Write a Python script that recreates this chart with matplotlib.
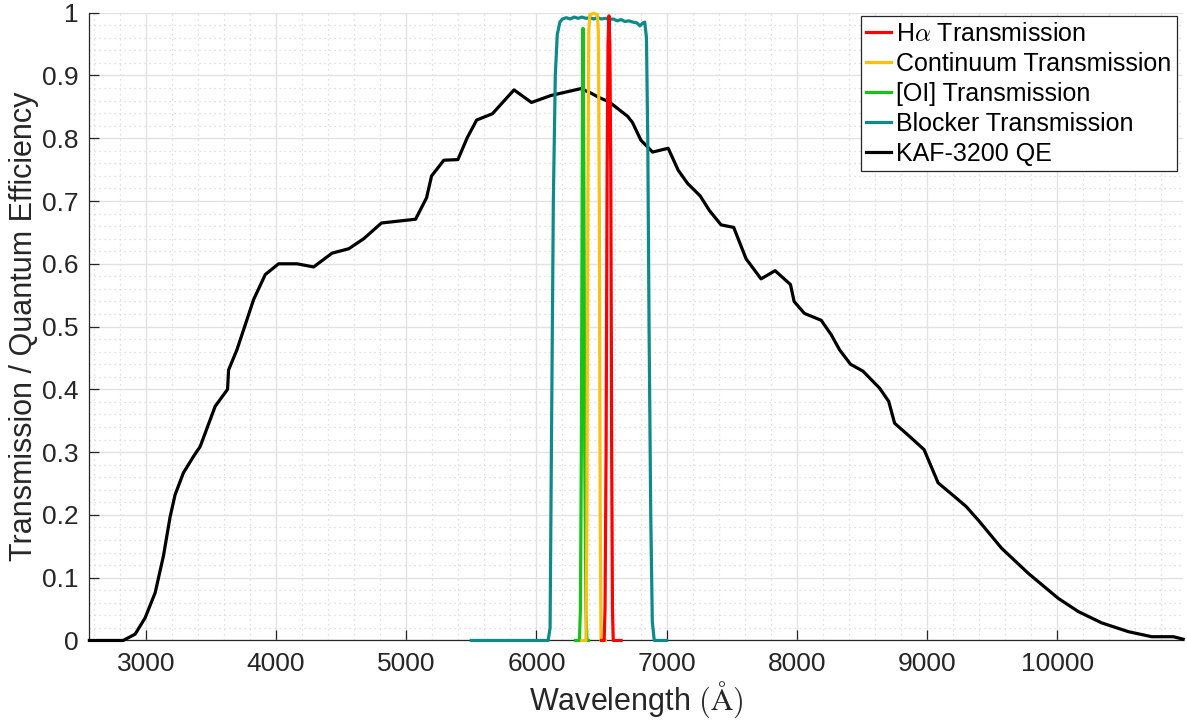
import matplotlib
matplotlib.use("Agg")
import matplotlib.pyplot as plt
from matplotlib.ticker import MultipleLocator, FuncFormatter

plt.rcParams['font.family'] = ['Liberation Sans', 'DejaVu Sans']
plt.rcParams['mathtext.fontset'] = 'cm'

# KAF-3200 quantum efficiency
qe_wl = [2567, 2700, 2826, 2918, 2995, 3072, 3135, 3187, 3225, 3289, 3366, 3418,
         3533, 3628, 3636, 3700, 3777, 3828, 3918, 4020, 4162, 4289, 4431, 4559,
         4674, 4810, 5072, 5156, 5195, 5289, 5397, 5469, 5541, 5662, 5828, 5962,
         6110, 6340, 6418, 6480, 6558, 6700, 6738, 6802, 6892, 7012, 7089, 7161,
         7258, 7328, 7418, 7515, 7610, 7725, 7833, 7951, 7979, 8058, 8187, 8264,
         8328, 8412, 8508, 8635, 8705, 8751, 8866, 8977, 9085, 9212, 9302, 9400,
         9572, 9777, 10008, 10162, 10341, 10546, 10725, 10892, 10967]
qe_val = [0.0, 0.0, 0.0, 0.010, 0.036, 0.076, 0.134, 0.197, 0.232, 0.267, 0.293, 0.309,
          0.373, 0.400, 0.431, 0.463, 0.511, 0.543, 0.583, 0.600, 0.600, 0.595, 0.617, 0.624,
          0.640, 0.665, 0.671, 0.705, 0.740, 0.765, 0.766, 0.801, 0.829, 0.839, 0.877, 0.857,
          0.868, 0.879, 0.872, 0.865, 0.858, 0.835, 0.825, 0.797, 0.778, 0.784, 0.749, 0.728,
          0.708, 0.685, 0.662, 0.658, 0.608, 0.576, 0.589, 0.567, 0.540, 0.521, 0.510, 0.487,
          0.463, 0.440, 0.429, 0.402, 0.381, 0.346, 0.325, 0.304, 0.251, 0.229, 0.213, 0.190,
          0.147, 0.107, 0.067, 0.046, 0.028, 0.014, 0.006, 0.006, 0.002]

# Blocker filter
blk_wl = [5500, 6090, 6105, 6115, 6130, 6145, 6160, 6180, 6200, 6230, 6260, 6290, 6320,
          6350, 6380, 6410, 6440, 6470, 6500, 6530, 6560, 6590, 6620, 6650, 6680, 6710,
          6740, 6770, 6795, 6815, 6832, 6845, 6855, 6865, 6878, 6890, 6905, 7000]
blk_val = [0.0, 0.0, 0.02, 0.3, 0.7, 0.9, 0.965, 0.985, 0.990, 0.992, 0.990, 0.993, 0.991,
           0.993, 0.991, 0.992, 0.990, 0.992, 0.990, 0.991, 0.989, 0.990, 0.987, 0.989, 0.986,
           0.987, 0.985, 0.984, 0.979, 0.983, 0.985, 0.96, 0.8, 0.5, 0.2, 0.03, 0.0, 0.0]

# [OI] filter
oi_wl = [6300, 6330, 6338, 6345, 6352, 6358, 6364, 6371, 6380, 6388, 6400]
oi_val = [0.0, 0.0, 0.05, 0.3, 0.75, 0.975, 0.75, 0.3, 0.05, 0.0, 0.0]

# Continuum filter
cont_wl = [6350, 6380, 6388, 6395, 6402, 6410, 6440, 6468, 6476, 6483, 6490, 6496, 6530]
cont_val = [0.0, 0.0, 0.2, 0.7, 0.97, 0.997, 0.999, 0.997, 0.97, 0.7, 0.2, 0.0, 0.0]

# H-alpha filter
ha_wl = [6500, 6520, 6527, 6535, 6543, 6550, 6557, 6564, 6571, 6578, 6584, 6590, 6650]
ha_val = [0.0, 0.0, 0.05, 0.3, 0.75, 0.95, 0.995, 0.95, 0.75, 0.3, 0.05, 0.0, 0.0]

fig = plt.figure(figsize=(11.87, 7.25), dpi=100)
ax = fig.add_axes([0.0752, 0.1166, 0.9217, 0.8659])

lw = 2.3
h_qe, = ax.plot(qe_wl, qe_val, color='black', lw=lw, zorder=3, label='KAF-3200 QE', clip_on=False)
h_blk, = ax.plot(blk_wl, blk_val, color='#0E8A8A', lw=lw, zorder=4, label='Blocker Transmission', clip_on=False)
h_oi, = ax.plot(oi_wl, oi_val, color='#16C316', lw=lw, zorder=5, label='[OI] Transmission', clip_on=False)
h_cont, = ax.plot(cont_wl, cont_val, color='#FDC010', lw=lw, zorder=6, label='Continuum Transmission', clip_on=False)
h_ha, = ax.plot(ha_wl, ha_val, color='#FF0000', lw=lw, zorder=7, label=r'H$\alpha$ Transmission', clip_on=False)

ax.set_xlim(2566, 10968)
ax.set_ylim(0, 1)

ax.xaxis.set_major_locator(MultipleLocator(1000))
ax.xaxis.set_minor_locator(MultipleLocator(200))
ax.yaxis.set_major_locator(MultipleLocator(0.1))
ax.yaxis.set_minor_locator(MultipleLocator(0.02))
ax.yaxis.set_major_formatter(FuncFormatter(lambda v, p: '%g' % round(v, 2)))
ax.xaxis.set_major_formatter(FuncFormatter(lambda v, p: '%d' % v))

ax.grid(which='major', color='#e2e2e2', lw=1.0, ls='-', zorder=0)
ax.grid(which='minor', color='#d6d6d6', lw=0.9, ls=(0, (1, 3)), zorder=0)
ax.set_axisbelow(True)

for s in ['top', 'right']:
    ax.spines[s].set_visible(False)
for s in ['left', 'bottom']:
    ax.spines[s].set_color('#262626')
    ax.spines[s].set_linewidth(0.9)

ax.tick_params(which='major', direction='in', length=7, width=0.9, color='#262626',
               labelsize=19, labelcolor='#262626', pad=8)
ax.tick_params(which='minor', length=0)

ax.set_xlabel(r'Wavelength $(\mathrm{\AA})$', fontsize=22, color='#262626', labelpad=3)
ax.set_ylabel('Transmission / Quantum Efficiency', fontsize=22, color='#262626', labelpad=2)

leg = ax.legend(handles=[h_ha, h_cont, h_oi, h_blk, h_qe], loc='upper right',
                bbox_to_anchor=(0.9942, 0.9944), fontsize=18, frameon=True, fancybox=False,
                edgecolor='#262626', framealpha=1, handlelength=1.0, handletextpad=0.2,
                borderpad=0.22, labelspacing=0.24, borderaxespad=0.0)
leg.get_frame().set_linewidth(0.9)
leg.set_zorder(10)

fig.savefig('out.png', dpi=100)
